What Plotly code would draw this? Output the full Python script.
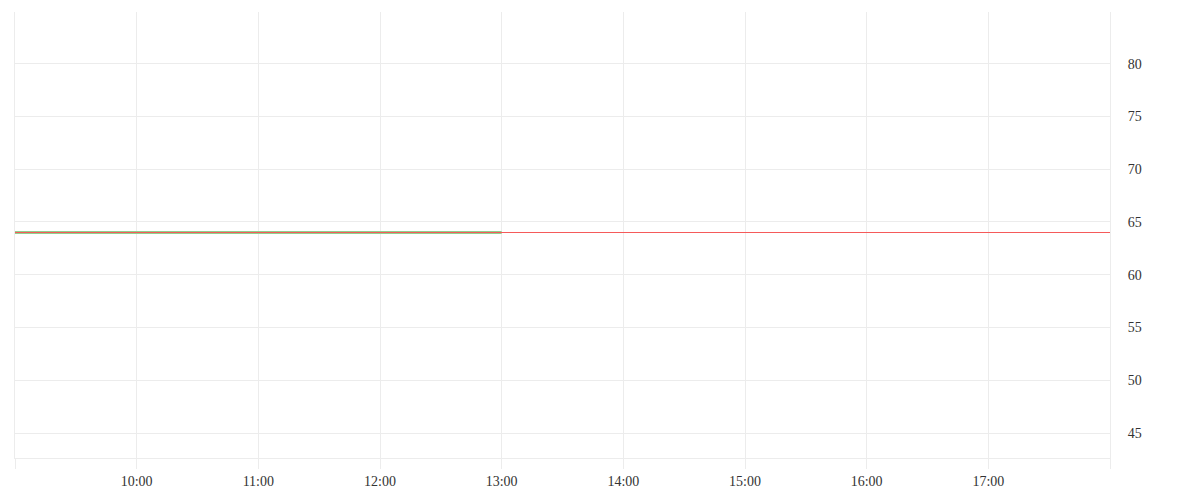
import plotly.graph_objects as go

# hourly timestamps for the session
times = ["2024-01-02 09:00", "2024-01-02 10:00", "2024-01-02 11:00", "2024-01-02 12:00",
         "2024-01-02 13:00", "2024-01-02 14:00", "2024-01-02 15:00", "2024-01-02 16:00",
         "2024-01-02 17:00", "2024-01-02 18:00"]

# first series only runs until 13:00
green_times = times[:5]
green_values = [64, 64, 64, 64, 64]

red_values = [64, 64, 64, 64, 64, 64, 64, 64, 64, 64]

tick_text = ["", "10:00", "11:00", "12:00", "13:00", "14:00", "15:00", "16:00", "17:00", ""]

grid = "#ececec"

fig = go.Figure()

fig.add_trace(go.Scatter(
    x=green_times, y=green_values, mode="lines",
    line=dict(color="#8fd18f", width=3),
    showlegend=False, hoverinfo="skip"
))

fig.add_trace(go.Scatter(
    x=times, y=red_values, mode="lines",
    line=dict(color="#f55a5a", width=1.2),
    showlegend=False
))

fig.update_layout(
    width=1192, height=492,
    margin=dict(l=7, r=90, t=4, b=42),
    paper_bgcolor="white",
    plot_bgcolor="white",
    font=dict(family="Times New Roman, Liberation Serif, serif", size=14, color="#333333"),
    xaxis=dict(
        type="date",
        range=[times[0], times[-1]],
        tickvals=times,
        ticktext=tick_text,
        showgrid=True, gridcolor=grid, gridwidth=1,
        showline=True, linecolor=grid, linewidth=1,
        ticks="outside", ticklen=10, tickcolor=grid,
        zeroline=False,
    ),
    yaxis=dict(
        side="right",
        range=[42.64, 84.89],
        tickvals=[45, 50, 55, 60, 65, 70, 75, 80],
        showgrid=True, gridcolor=grid, gridwidth=1,
        showline=True, linecolor=grid, linewidth=1, mirror=True,
        ticks="", ticklabelstandoff=14,
        zeroline=False,
    ),
)

fig.write_html("out.html")
